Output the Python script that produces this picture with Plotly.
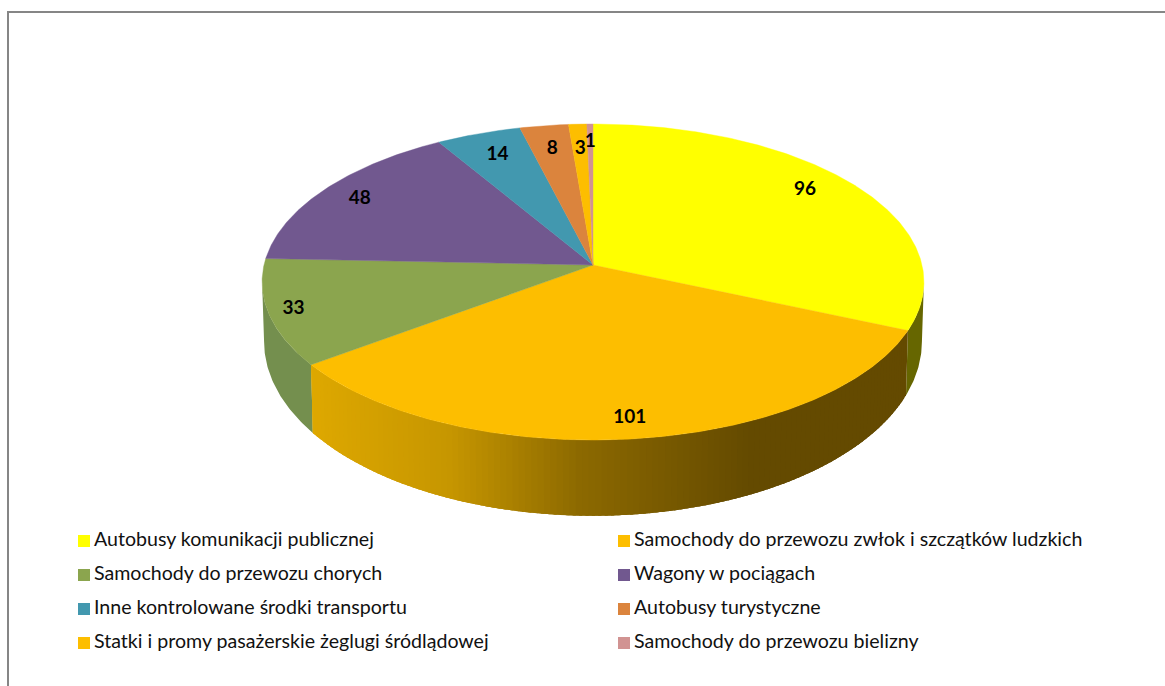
import numpy as np
import plotly.graph_objects as go

# ---- data ----
categories = [
    "Autobusy komunikacji publicznej",
    "Samochody do przewozu zwłok i szczątków ludzkich",
    "Samochody do przewozu chorych",
    "Wagony w pociągach",
    "Inne kontrolowane środki transportu",
    "Autobusy turystyczne",
    "Statki i promy pasażerskie żeglugi śródlądowej",
    "Samochody do przewozu bielizny",
]
values = [96, 101, 33, 48, 14, 8, 3, 1]
title_text = "kontrolowanych środków transportu na terenie województwa podlaskiego w 2018r."

# ---- styles ----
colors = ["#FFFF00", "#FDBE00", "#8BA54E", "#71588F", "#4298AF", "#DB843D", "#FDBE00", "#D19392"]
side_flat = {0: "#666600", 2: "#748F4E"}
FONT = "Lato, Carlito, Calibri, sans-serif"
W, H = 1165, 686
CX, CY, RX, RY, P = 593.0, 265.0, 329.0, 156.2, 0.1077   # top face projection
LOW_RX, LOW_CY, LOW_RY = 327.0, 323.0, 172.0             # lower rim projection
TANGENT = np.arccos(-P)                                  # angle where the wall meets the silhouette
label_radius = [0.847, 0.892, 0.925, 0.865, 0.821, 0.818, 0.809, 0.86]
label_turn = [-3.5, 0, 0, 0, 0, 0, 0, 0]


def top_face(theta, f=1.0):
    u, v = f * np.sin(theta), f * np.cos(theta)
    w = 1 + P * v
    return CX + RX * u / w, CY - RY * v / w


def lower_rim(theta):
    u, v = np.sin(theta), np.cos(theta)
    w = 1 + P * v
    return CX + LOW_RX * u / w, LOW_CY - LOW_RY * v / w


def orange_shade(x):
    stops_x = [310, 450, 580, 750]
    r = np.interp(x, stops_x, [222, 198, 140, 100])
    g = np.interp(x, stops_x, [168, 150, 105, 74])
    return f"rgb({r:.0f},{g:.0f},0)"


edges = np.concatenate([[0], np.cumsum(values)]) / sum(values) * 2 * np.pi
fig = go.Figure()


def poly(xs, ys, color, width=0.6):
    fig.add_trace(go.Scatter(x=xs, y=ys, mode="lines", fill="toself", fillcolor=color,
                             line=dict(color=color, width=width), hoverinfo="skip", showlegend=False))


def wall(a0, a1, color):
    th = np.linspace(a0, a1, max(4, int(np.degrees(a1 - a0) * 2)))
    xt, yt = top_face(th)
    xl, yl = lower_rim(th[::-1])
    poly(np.r_[xt, xl], np.r_[yt, yl], color, width=0)


# side walls of the slices that face the viewer
wall(TANGENT, edges[1], side_flat[0])
wall(edges[2], 2 * np.pi - TANGENT, side_flat[2])
step = np.radians(1.0)
cuts = np.arange(edges[1], edges[2], step)
for t0 in cuts:
    x_mid = top_face(t0 + step / 2)[0]
    wall(t0, min(t0 + 2.5 * step, edges[2]), orange_shade(x_mid))

# top face
for i in range(len(values)):
    th = np.linspace(edges[i], edges[i + 1], max(4, int(np.degrees(edges[i + 1] - edges[i]) * 2)))
    xt, yt = top_face(th)
    poly(np.r_[CX, xt, CX], np.r_[CY, yt, CY], colors[i], width=0.4)

# data labels
mid = (edges[:-1] + edges[1:]) / 2 + np.radians(label_turn)
lx, ly = top_face(mid, np.array(label_radius))
fig.add_trace(go.Scatter(x=lx, y=ly, mode="text", text=[str(v) for v in values],
                         textposition="middle center", cliponaxis=False, hoverinfo="skip", showlegend=False,
                         textfont=dict(family=FONT, size=19, color="#000000", weight="bold")))

# legend, two columns
LEG_X = [84, 624]
LEG_TEXT_X = [94, 634]
LEG_Y0, LEG_DY = 541, 34
for i, name in enumerate(categories):
    col, row = i % 2, i // 2
    y = LEG_Y0 + row * LEG_DY
    fig.add_trace(go.Scatter(x=[LEG_X[col]], y=[y], mode="markers",
                             marker=dict(symbol="square", size=12, color=colors[i]),
                             cliponaxis=False, hoverinfo="skip", showlegend=False))
    fig.add_trace(go.Scatter(x=[LEG_TEXT_X[col]], y=[y], mode="text",
                             text=[name], textposition="middle right",
                             textfont=dict(family=FONT, size=19.6, color="#111111"),
                             cliponaxis=False, hoverinfo="skip", showlegend=False))

fig.update_layout(
    width=W, height=H, margin=dict(l=0, r=0, t=0, b=0),
    paper_bgcolor="white", plot_bgcolor="white", showlegend=False,
    xaxis=dict(range=[0, W], visible=False, fixedrange=True),
    yaxis=dict(range=[H, 0], visible=False, fixedrange=True),
    shapes=[dict(type="rect", xref="x", yref="y", x0=8, y0=12, x1=W + 20, y1=H + 20,
                 line=dict(color="#868686", width=2), fillcolor="rgba(0,0,0,0)", layer="below")],
    annotations=[dict(xref="x", yref="y", x=-6, y=10, text=title_text, showarrow=False,
                      xanchor="left", yanchor="bottom",
                      font=dict(family="Liberation Serif", size=21, color="#000000", weight="bold", style="italic"))],
)
fig.write_html("out.html", config={"displayModeBar": False},
               post_script="document.body.style.margin='0';document.body.style.overflow='hidden';window.dispatchEvent(new Event('resize'));")
